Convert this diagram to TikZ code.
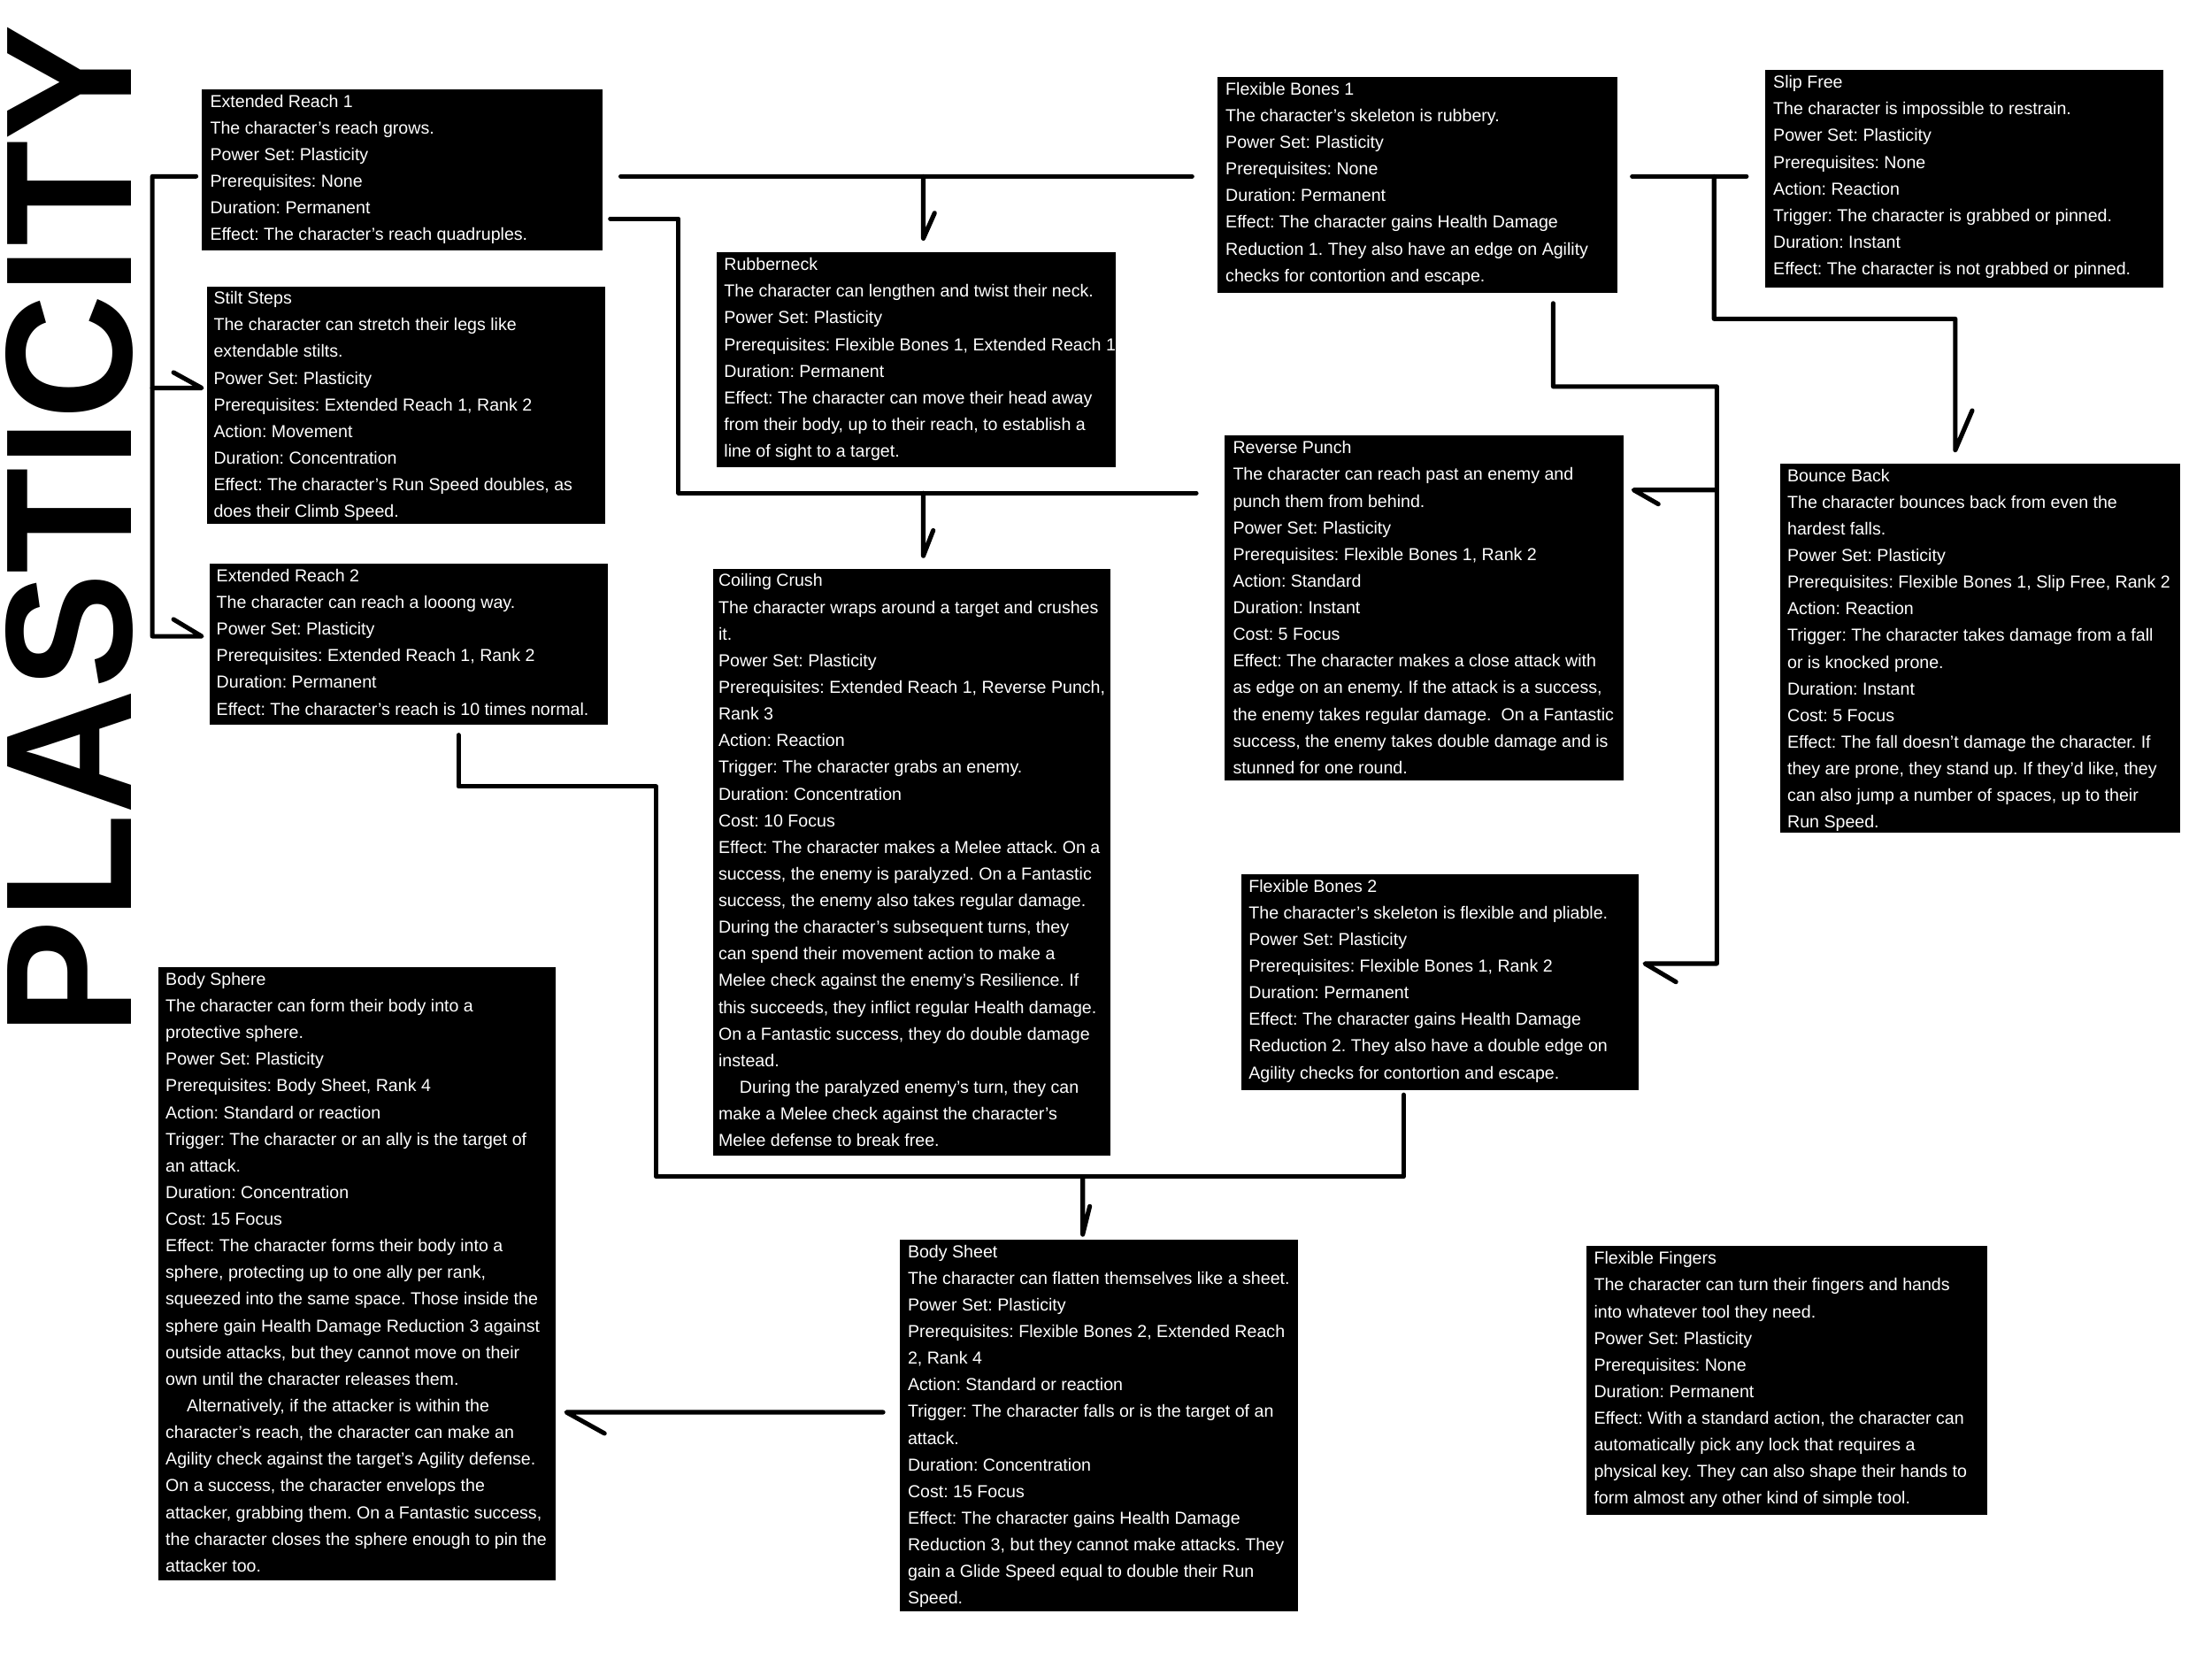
\documentclass[tikz,border=0pt]{standalone}
\usepackage{graphicx}
\usepackage{fontspec}
\setmainfont{Liberation Sans}
\usetikzlibrary{fit,calc}
\frenchspacing
\tikzset{
  card/.style={fill=black, draw=none, inner sep=0pt},
  cardtext/.style={text=white, align=left, inner sep=0pt, anchor=north west,
    font=\fontsize{12.3}{18.9}\selectfont},
  link/.style={line width=3.2pt, line cap=round, line join=round, draw=black},
}
\newcommand\fst{\rule{0pt}{12.8pt}}
\newcommand\ind{\hspace*{15pt}}
\begin{document}
\begin{tikzpicture}[x=1pt, y=-1pt]
\fill[white] (0,0) rectangle (1568,1176);
\useasboundingbox (0,0) rectangle (1568,1176);

% Title
\node[rotate=90, inner sep=0pt] (title) at (49,376) {\resizebox{716pt}{89pt}{\bfseries PLASTICITY}};

% ---------- cards ----------
\node[card, fit={(143,63.2) (427,177.4)}] (er1) {};
\node[cardtext] (er1t) at ([xshift=6pt]er1.north west) {\fst Extended Reach 1\\
The character's reach grows.\\
Power Set: Plasticity\\
Prerequisites: None\\
Duration: Permanent\\
Effect: The character's reach quadruples.};

\node[card, fit={(146.5,203.5) (428.8,371)}] (ss) {};
\node[cardtext] (sst) at ([xshift=5pt,yshift=0.8pt]ss.north west) {\fst Stilt Steps\\
The character can stretch their legs like\\
extendable stilts.\\
Power Set: Plasticity\\
Prerequisites: Extended Reach 1, Rank 2\\
Action: Movement\\
Duration: Concentration\\
Effect: The character's Run Speed doubles, as\\
does their Climb Speed.};

\node[card, fit={(148.5,399.5) (430.7,513.7)}] (er2) {};
\node[cardtext] (er2t) at ([xshift=5pt]er2.north west) {\fst Extended Reach 2\\
The character can reach a looong way.\\
Power Set: Plasticity\\
Prerequisites: Extended Reach 1, Rank 2\\
Duration: Permanent\\
Effect: The character's reach is 10 times normal.};

\node[card, fit={(507.8,178.9) (791,330.9)}] (rn) {};
\node[cardtext] (rnt) at ([xshift=5.5pt]rn.north west) {\fst Rubberneck\\
The character can lengthen and twist their neck.\\
Power Set: Plasticity\\
Prerequisites: Flexible Bones 1, Extended Reach 1\\
Duration: Permanent\\
Effect: The character can move their head away\\
from their body, up to their reach, to establish a\\
line of sight to a target.};

\node[card, fit={(505.3,403) (787,819)}] (cc) {};
\node[cardtext] (cct) at ([xshift=4pt]cc.north west) {\fst Coiling Crush\\
The character wraps around a target and crushes\\
it.\\
Power Set: Plasticity\\
Prerequisites: Extended Reach 1, Reverse Punch,\\
Rank 3\\
Action: Reaction\\
Trigger: The character grabs an enemy.\\
Duration: Concentration\\
Cost: 10 Focus\\
Effect: The character makes a Melee attack. On a\\
success, the enemy is paralyzed. On a Fantastic\\
success, the enemy also takes regular damage.\\
During the character's subsequent turns, they\\
can spend their movement action to make a\\
Melee check against the enemy's Resilience. If\\
this succeeds, they inflict regular Health damage.\\
On a Fantastic success, they do double damage\\
instead.\\
\ind During the paralyzed enemy's turn, they can\\
make a Melee check against the character's\\
Melee defense to break free.};

\node[card, fit={(863.3,54.5) (1146.6,207.4)}] (fb1) {};
\node[cardtext] (fb1t) at ([xshift=5.5pt]fb1.north west) {\fst Flexible Bones 1\\
The character's skeleton is rubbery.\\
Power Set: Plasticity\\
Prerequisites: None\\
Duration: Permanent\\
Effect: The character gains Health Damage\\
Reduction 1. They also have an edge on Agility\\
checks for contortion and escape.};

\node[card, fit={(1251.5,49.7) (1533.5,203.9)}] (sf) {};
\node[cardtext] (sft) at ([xshift=5.5pt]sf.north west) {\fst Slip Free\\
The character is impossible to restrain.\\
Power Set: Plasticity\\
Prerequisites: None\\
Action: Reaction\\
Trigger: The character is grabbed or pinned.\\
Duration: Instant\\
Effect: The character is not grabbed or pinned.};

\node[card, fit={(868.2,308.8) (1151,553.4)}] (rp) {};
\node[cardtext] (rpt) at ([xshift=5.8pt]rp.north west) {\fst Reverse Punch\\
The character can reach past an enemy and\\
punch them from behind.\\
Power Set: Plasticity\\
Prerequisites: Flexible Bones 1, Rank 2\\
Action: Standard\\
Duration: Instant\\
Cost: 5 Focus\\
Effect: The character makes a close attack with\\
as edge on an enemy. If the attack is a success,\\
the enemy takes regular damage.\ \ On a Fantastic\\
success, the enemy takes double damage and is\\
stunned for one round.};

\node[card, fit={(1262,328.5) (1545.6,590.3)}] (bb) {};
\node[cardtext] (bbt) at ([xshift=5pt]bb.north west) {\fst Bounce Back\\
The character bounces back from even the\\
hardest falls.\\
Power Set: Plasticity\\
Prerequisites: Flexible Bones 1, Slip Free, Rank 2\\
Action: Reaction\\
Trigger: The character takes damage from a fall\\
or is knocked prone.\\
Duration: Instant\\
Cost: 5 Focus\\
Effect: The fall doesn't damage the character. If\\
they are prone, they stand up. If they'd like, they\\
can also jump a number of spaces, up to their\\
Run Speed.};

\node[card, fit={(879.7,619.5) (1161.6,772.8)}] (fb2) {};
\node[cardtext] (fb2t) at ([xshift=5.5pt]fb2.north west) {\fst Flexible Bones 2\\
The character's skeleton is flexible and pliable.\\
Power Set: Plasticity\\
Prerequisites: Flexible Bones 1, Rank 2\\
Duration: Permanent\\
Effect: The character gains Health Damage\\
Reduction 2. They also have a double edge on\\
Agility checks for contortion and escape.};

\node[card, fit={(112.4,685.5) (393.9,1120.2)}] (bsph) {};
\node[cardtext] (bspht) at ([xshift=5pt]bsph.north west) {\fst Body Sphere\\
The character can form their body into a\\
protective sphere.\\
Power Set: Plasticity\\
Prerequisites: Body Sheet, Rank 4\\
Action: Standard or reaction\\
Trigger: The character or an ally is the target of\\
an attack.\\
Duration: Concentration\\
Cost: 15 Focus\\
Effect: The character forms their body into a\\
sphere, protecting up to one ally per rank,\\
squeezed into the same space. Those inside the\\
sphere gain Health Damage Reduction 3 against\\
outside attacks, but they cannot move on their\\
own until the character releases them.\\
\ind Alternatively, if the attacker is within the\\
character's reach, the character can make an\\
Agility check against the target's Agility defense.\\
On a success, the character envelops the\\
attacker, grabbing them. On a Fantastic success,\\
the character closes the sphere enough to pin the\\
attacker too.};

\node[card, fit={(637.9,878.5) (920.1,1142)}] (bsh) {};
\node[cardtext] (bsht) at ([xshift=5.6pt]bsh.north west) {\fst Body Sheet\\
The character can flatten themselves like a sheet.\\
Power Set: Plasticity\\
Prerequisites: Flexible Bones 2, Extended Reach\\
2, Rank 4\\
Action: Standard or reaction\\
Trigger: The character falls or is the target of an\\
attack.\\
Duration: Concentration\\
Cost: 15 Focus\\
Effect: The character gains Health Damage\\
Reduction 3, but they cannot make attacks. They\\
gain a Glide Speed equal to double their Run\\
Speed.};

\node[card, fit={(1124.4,883.3) (1408.7,1073.6)}] (ff) {};
\node[cardtext] (fft) at ([xshift=5.5pt]ff.north west) {\fst Flexible Fingers\\
The character can turn their fingers and hands\\
into whatever tool they need.\\
Power Set: Plasticity\\
Prerequisites: None\\
Duration: Permanent\\
Effect: With a standard action, the character can\\
automatically pick any lock that requires a\\
physical key. They can also shape their hands to\\
form almost any other kind of simple tool.};

% ---------- connectors ----------
% A: Extended Reach 1 -> Stilt Steps, Extended Reach 2
\coordinate (a0) at (139,125);
\coordinate (a1) at (108,125);
\coordinate (aS) at (143,275);
\coordinate (aE) at (143,451);
\draw[link] (a0) -- (a1) -- (a1 |- aE) -- (aE) -- ++(-20,-12);
\draw[link] (a1 |- aS) -- (aS) -- ++(-20,-11);

% B: Extended Reach 1 + Flexible Bones 1 -> Rubberneck
\coordinate (b0) at (440,125);
\coordinate (b1) at (845,125);
\coordinate (bT) at (654.5,169);
\draw[link] (b0) -- (b1);
\draw[link] (bT |- b0) -- (bT) -- ++(8,-18);

% C: Extended Reach 1 + Reverse Punch -> Coiling Crush
\coordinate (c0) at (432.6,155);
\coordinate (c1) at (481,155);
\coordinate (c2) at (848,349.5);
\coordinate (cT) at (654.5,394);
\draw[link] (c0) -- (c1) -- (c1 |- c2) -- (c2);
\draw[link] (cT |- c2) -- (cT) -- ++(7,-18);

% D: Flexible Bones 1 -> Reverse Punch, Flexible Bones 2
\coordinate (d0) at (1101,215);
\coordinate (d1) at (1217,274);
\coordinate (dR) at (1158,347.3);
\coordinate (dF) at (1166,683);
\draw[link] (d0) -- (d0 |- d1) -- (d1) -- (d1 |- dF) -- (dF) -- ++(22,13);
\draw[link] (d1 |- dR) -- (dR) -- ++(17.5,10);

% E: Flexible Bones 1 + Slip Free -> Bounce Back
\coordinate (e0) at (1157,125);
\coordinate (e1) at (1238,125);
\coordinate (e2) at (1215,226);
\coordinate (eT) at (1386,319);
\draw[link] (e0) -- (e1);
\draw[link] (e2 |- e0) -- (e2) -- (eT |- e2) -- (eT) -- ++(12,-28);

% F: Extended Reach 2 + Flexible Bones 2 -> Body Sheet
\coordinate (f0) at (325,521);
\coordinate (f1) at (465,557.5);
\coordinate (f2) at (995,834);
\coordinate (f3) at (995,776);
\coordinate (fT) at (767.5,875);
\draw[link] (f0) -- (f0 |- f1) -- (f1) -- (f1 |- f2) -- (f2) -- (f3);
\draw[link] (fT |- f2) -- (fT) -- ++(5,-20);

% G: Body Sheet -> Body Sphere
\coordinate (g0) at (626,1001);
\coordinate (gT) at (401.5,1001);
\draw[link] (g0) -- (gT) -- ++(27,15);
\end{tikzpicture}
\end{document}
